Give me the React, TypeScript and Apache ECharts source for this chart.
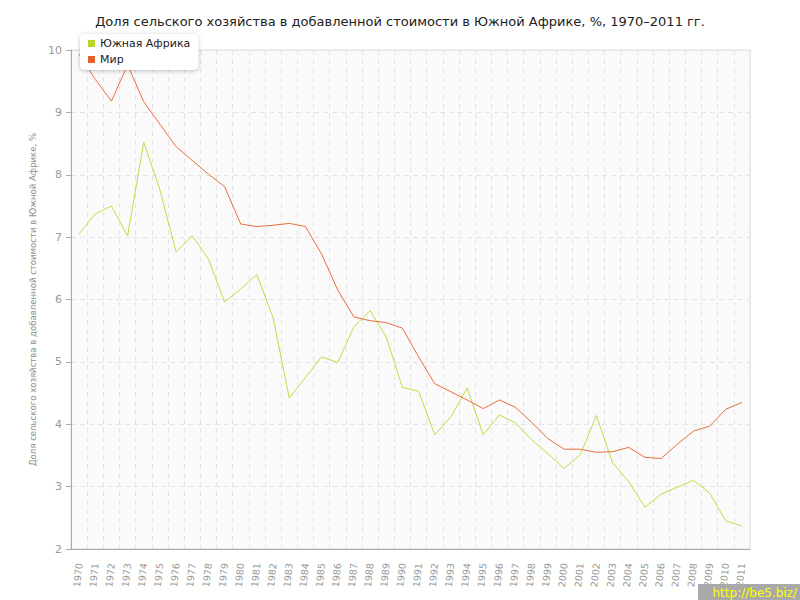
import React, { useEffect, useRef } from "react";
import * as echarts from "echarts";

const years: string[] = [
  "1970","1971","1972","1973","1974","1975","1976","1977","1978","1979",
  "1980","1981","1982","1983","1984","1985","1986","1987","1988","1989",
  "1990","1991","1992","1993","1994","1995","1996","1997","1998","1999",
  "2000","2001","2002","2003","2004","2005","2006","2007","2008","2009",
  "2010","2011",
];

const southAfrica: number[] = [
  7.05, 7.37, 7.50, 7.02, 8.52, 7.76, 6.76, 7.02, 6.65, 5.96,
  6.17, 6.40, 5.71, 4.42, 4.75, 5.08, 4.99, 5.56, 5.82, 5.40,
  4.59, 4.53, 3.83, 4.12, 4.58, 3.83, 4.15, 4.02, 3.75, 3.53,
  3.29, 3.51, 4.14, 3.38, 3.08, 2.67, 2.88, 2.99, 3.10, 2.90,
  2.45, 2.37,
];

const world: number[] = [
  9.93, 9.53, 9.18, 9.76, 9.17, 8.81, 8.45, 8.23, 8.01, 7.81,
  7.21, 7.17, 7.19, 7.22, 7.17, 6.73, 6.15, 5.72, 5.66, 5.63,
  5.54, 5.08, 4.65, 4.52, 4.39, 4.25, 4.39, 4.27, 4.03, 3.77,
  3.60, 3.60, 3.55, 3.56, 3.63, 3.47, 3.45, 3.68, 3.89, 3.97,
  4.24, 4.35,
];

const seriesNames: string[] = ["Южная Африка", "Мир"];
const titleText = "Доля сельского хозяйства в добавленной стоимости в Южной Африке, %, 1970–2011 гг.";
const yAxisName = "Доля сельского хозяйства в добавленной стоимости в Южной Африке, %";

export default function App() {
  const ref = useRef<HTMLDivElement>(null);
  useEffect(() => {
    if (!ref.current) return;
    const chart = echarts.init(ref.current, null, { renderer: "svg" });
    const font = "DejaVu Sans";
    chart.setOption({
      animation: false,
      backgroundColor: "#ffffff",
      textStyle: { fontFamily: font },
      title: {
        text: titleText,
        left: "center",
        top: 10,
        textStyle: { fontFamily: font, fontSize: 13, fontWeight: "normal", color: "#222" },
      },
      legend: {
        orient: "vertical",
        left: 80,
        top: 34,
        padding: [4, 8, 5, 8],
        itemGap: 5,
        itemWidth: 7,
        itemHeight: 7,
        icon: "rect",
        backgroundColor: "#ffffff",
        borderRadius: 5,
        shadowBlur: 4,
        shadowColor: "rgba(0,0,0,0.25)",
        shadowOffsetY: 1,
        textStyle: { fontFamily: font, fontSize: 11, color: "#222" },
        data: seriesNames,
      },
      grid: {
        left: 71,
        right: 50,
        top: 50,
        bottom: 51,
        show: true,
        backgroundColor: "#fafafa",
        borderColor: "#dddddd",
        borderWidth: 1,
      },
      xAxis: {
        type: "category",
        data: years,
        boundaryGap: true,
        axisLine: { lineStyle: { color: "#aaaaaa" } },
        axisTick: { alignWithLabel: true, length: 5, lineStyle: { color: "#aaaaaa" } },
        axisLabel: {
          interval: 0,
          rotate: 84,
          color: "#999999",
          fontFamily: font,
          fontSize: 9.5,
          margin: 14,
        },
        splitLine: { show: true, interval: 0, lineStyle: { color: "#e4e4e4", type: [5, 4] } },
      },
      yAxis: {
        type: "value",
        min: 2,
        max: 10,
        interval: 1,
        name: yAxisName,
        nameLocation: "middle",
        nameGap: 22,
        nameTextStyle: {
          color: "#8f8f8f",
          fontFamily: "'DejaVu Sans Condensed', 'DejaVu Sans'",
          fontSize: 9.5,
        },
        axisLine: { show: true, lineStyle: { color: "#aaaaaa" } },
        axisTick: { show: true, length: 5, lineStyle: { color: "#aaaaaa" } },
        axisLabel: { color: "#999999", fontFamily: font, fontSize: 11, margin: 9 },
        splitLine: { show: true, lineStyle: { color: "#e4e4e4", type: [5, 4] } },
      },
      series: [
        {
          name: seriesNames[0],
          type: "line",
          data: southAfrica,
          symbol: "none",
          color: "#b7d62c",
          lineStyle: { width: 1, color: "#c2dc45" },
        },
        {
          name: seriesNames[1],
          type: "line",
          data: world,
          symbol: "none",
          color: "#e6622b",
          lineStyle: { width: 1, color: "#e8703c" },
        },
      ],
      graphic: [
        {
          type: "rect",
          right: 0,
          bottom: 0,
          shape: { width: 102, height: 16 },
          style: { fill: "#a9a9a9" },
          z: 100,
        },
        {
          type: "text",
          right: 3,
          bottom: 1,
          style: {
            text: "http://be5.biz/",
            fill: "#ffff00",
            font: "12px DejaVu Sans",
          },
          z: 101,
        },
      ],
    });
    return () => chart.dispose();
  }, []);
  return <div ref={ref} style={{ width: 800, height: 600, position: "absolute", left: 0, top: 0 }} />;
}
